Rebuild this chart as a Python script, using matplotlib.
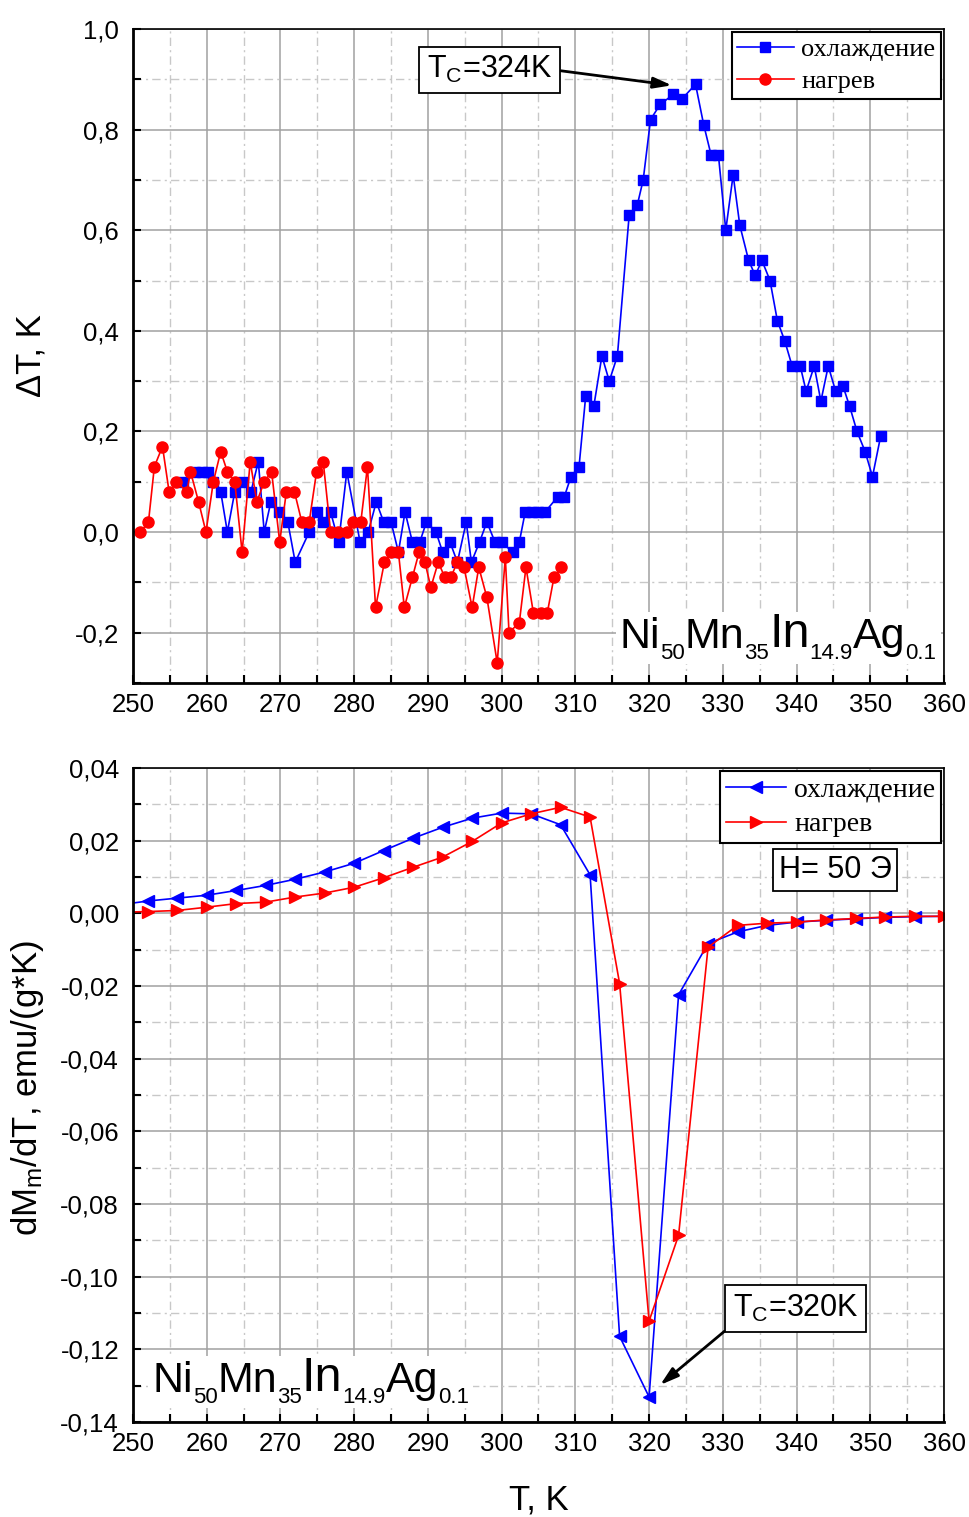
import matplotlib
matplotlib.use('Agg')
import matplotlib.pyplot as plt
from matplotlib.ticker import MultipleLocator, FuncFormatter
from matplotlib.patches import Rectangle
from matplotlib.transforms import Bbox

plt.rcParams['font.family'] = ['Liberation Sans', 'DejaVu Sans']
plt.rcParams['mathtext.default'] = 'regular'

# top panel: delta T, cooling (blue squares)
dt_cool_t = [256.8, 258.4, 259.3, 260.2, 260.9, 261.9, 262.8, 263.8, 264.9, 266.0,
             267.0, 267.8, 268.7, 269.8, 271.0, 272.0, 273.9, 274.9, 275.8, 276.8,
             277.9, 279.0, 280.8, 281.9, 283.0, 284.0, 285.0, 286.0, 286.9, 287.9,
             288.9, 289.8, 291.1, 292.0, 293.0, 294.0, 295.2, 295.9, 297.0, 298.0,
             299.1, 300.0, 301.5, 302.4, 303.2, 304.1, 305.0, 305.9, 307.6, 308.5,
             309.4, 310.5, 311.4, 312.5, 313.6, 314.6, 315.7, 317.3, 318.4, 319.2,
             320.2, 321.5, 323.3, 324.4, 326.3, 327.4, 328.4, 329.4, 330.4, 331.4,
             332.3, 333.5, 334.4, 335.3, 336.4, 337.4, 338.4, 339.4, 340.5, 341.3,
             342.4, 343.3, 344.3, 345.3, 346.3, 347.2, 348.2, 349.3, 350.3, 351.4]
dt_cool_v = [0.10, 0.12, 0.12, 0.12, 0.10, 0.08, 0.00, 0.08, 0.10, 0.08,
             0.14, 0.00, 0.06, 0.04, 0.02, -0.06, 0.00, 0.04, 0.02, 0.04,
             -0.02, 0.12, -0.02, 0.00, 0.06, 0.02, 0.02, -0.04, 0.04, -0.02,
             -0.02, 0.02, 0.00, -0.04, -0.02, -0.06, 0.02, -0.06, -0.02, 0.02,
             -0.02, -0.02, -0.04, -0.02, 0.04, 0.04, 0.04, 0.04, 0.07, 0.07,
             0.11, 0.13, 0.27, 0.25, 0.35, 0.30, 0.35, 0.63, 0.65, 0.70,
             0.82, 0.85, 0.87, 0.86, 0.89, 0.81, 0.75, 0.75, 0.60, 0.71,
             0.61, 0.54, 0.51, 0.54, 0.50, 0.42, 0.38, 0.33, 0.33, 0.28,
             0.33, 0.26, 0.33, 0.28, 0.29, 0.25, 0.20, 0.16, 0.11, 0.19]

# top panel: delta T, heating (red circles)
dt_heat_t = [251.0, 252.1, 252.9, 254.0, 254.9, 255.9, 257.3, 257.8, 258.9, 259.9,
             260.9, 261.9, 262.8, 263.8, 264.8, 265.9, 266.8, 267.8, 268.8, 269.9,
             270.8, 271.9, 272.9, 273.9, 274.9, 275.8, 276.8, 277.8, 279.0, 279.9,
             280.9, 281.8, 282.9, 284.1, 285.0, 286.0, 286.8, 287.9, 288.8, 289.6,
             290.4, 291.4, 292.3, 293.1, 294.0, 294.9, 296.0, 296.9, 298.0, 299.4,
             300.5, 301.0, 302.4, 303.3, 304.3, 305.3, 306.2, 307.1, 308.1]
dt_heat_v = [0.00, 0.02, 0.13, 0.17, 0.08, 0.10, 0.08, 0.12, 0.06, 0.00,
             0.10, 0.16, 0.12, 0.10, -0.04, 0.14, 0.06, 0.10, 0.12, -0.02,
             0.08, 0.08, 0.02, 0.02, 0.12, 0.14, 0.00, 0.00, 0.00, 0.02,
             0.02, 0.13, -0.15, -0.06, -0.04, -0.04, -0.15, -0.09, -0.04, -0.06,
             -0.11, -0.06, -0.09, -0.09, -0.06, -0.07, -0.15, -0.07, -0.13, -0.26,
             -0.05, -0.20, -0.18, -0.07, -0.16, -0.16, -0.16, -0.09, -0.07]

# bottom panel: dM/dT
dm_t = [248, 252, 256, 260, 264, 268, 272, 276, 280, 284, 288, 292, 296, 300, 304,
        308, 312, 316, 320, 324, 328, 332, 336, 340, 344, 348, 352, 356, 360]
dm_cool = [0.0023, 0.0034, 0.0042, 0.0050, 0.0063, 0.0077, 0.0094, 0.0114, 0.0138,
           0.0173, 0.0207, 0.0237, 0.0262, 0.0276, 0.0274, 0.0244, 0.0106, -0.1164,
           -0.1331, -0.0224, -0.0083, -0.0051, -0.0033, -0.0024, -0.0019, -0.0015,
           -0.0011, -0.0009, -0.0008]
dm_heat = [0.0003, 0.0005, 0.0008, 0.0017, 0.0027, 0.0031, 0.0045, 0.0056, 0.0072,
           0.0098, 0.0127, 0.0155, 0.0198, 0.0249, 0.0274, 0.0292, 0.0265, -0.0193,
           -0.1122, -0.0886, -0.0093, -0.0033, -0.0027, -0.0024, -0.0018, -0.0014,
           -0.0010, -0.0008, -0.0008]

labels = ['охлаждение', 'нагрев']
formula_parts = [('Ni', 'main'), ('50', 'sub'), ('Mn', 'main'), ('35', 'sub'),
                 ('In', 'big'), ('14.9', 'sub'), ('Ag', 'main'), ('0.1', 'sub')]


def comma(v, digits):
    if abs(v) < 1e-9:
        v = 0.0
    return f'{v:.{digits}f}'.replace('.', ',')


def style_axes(ax, y_min, y_max, y_major, y_minor, digits):
    ax.set_xlim(250, 360)
    ax.set_ylim(y_min, y_max)
    ax.xaxis.set_major_locator(MultipleLocator(10))
    ax.xaxis.set_minor_locator(MultipleLocator(5))
    ax.yaxis.set_major_locator(MultipleLocator(y_major))
    ax.yaxis.set_minor_locator(MultipleLocator(y_minor))
    ax.yaxis.set_major_formatter(FuncFormatter(lambda v, p: comma(v, digits)))
    ax.xaxis.set_major_formatter(FuncFormatter(lambda v, p: f'{v:.0f}'))
    ax.grid(which='major', color='#a0a0a0', lw=1.1, ls='-')
    ax.grid(which='minor', color='#c8c8c8', lw=1.0, ls=(0, (6, 3, 1.5, 3)))
    ax.set_axisbelow(True)
    ax.tick_params(which='both', direction='in', length=6, width=1.5,
                   labelsize=18.5, top=False, right=False)
    ax.tick_params(axis='x', pad=7)
    ax.tick_params(axis='y', pad=10)
    for side in ['left', 'bottom']:
        ax.spines[side].set_linewidth(2.0)
    for side in ['top', 'right']:
        ax.spines[side].set_linewidth(1.2)


def make_legend(ax, fontsize):
    leg = ax.legend(loc='upper right', prop={'family': 'Liberation Serif', 'size': fontsize},
                    frameon=True, fancybox=False, framealpha=1, edgecolor='black',
                    handlelength=2.15, handletextpad=0.3, borderpad=0.2,
                    labelspacing=0.34, borderaxespad=0.12, numpoints=1)
    leg.get_frame().set_linewidth(1.5)
    leg.set_zorder(7)


def formula(fig, ax, x, y):
    # chained pieces so subscripts sit lower and smaller than in mathtext
    sizes = {'main': 31, 'big': 35, 'sub': 16}
    text, kind = formula_parts[0]
    t = ax.text(x, y, text, fontsize=sizes[kind], va='baseline', zorder=6)
    texts = [t]
    for text, kind in formula_parts[1:]:
        dy = -5 if kind == 'sub' else 5
        t = ax.annotate(text, xy=(1, 0), xycoords=t, xytext=(0, dy),
                        textcoords='offset points', fontsize=sizes[kind],
                        ha='left', va='bottom', zorder=6)
        texts.append(t)

    # white patch behind the whole formula
    fig.canvas.draw()
    r = fig.canvas.get_renderer()
    box = Bbox.union([t.get_window_extent(r) for t in texts])
    box = box.transformed(ax.transAxes.inverted())
    ax.add_patch(Rectangle((box.x0 - 0.005, box.y0), box.width + 0.01, box.height,
                           transform=ax.transAxes, fc='white', ec='none', zorder=5))


fig = plt.figure(figsize=(9.7, 15.17), dpi=100)
ax1 = fig.add_axes([0.1371, 0.5498, 0.8361, 0.4311])
ax2 = fig.add_axes([0.1371, 0.0626, 0.8361, 0.4311])

# top panel
ax1.plot(dt_cool_t, dt_cool_v, color='#0000ff', lw=1.2, marker='s', ms=7.2, label=labels[0])
ax1.plot(dt_heat_t, dt_heat_v, color='#ff0000', lw=1.2, marker='o', ms=8, label=labels[1])
style_axes(ax1, -0.3, 1.0, 0.2, 0.1, 1)
ax1.set_ylabel('ΔT, K', fontsize=25)
ax1.yaxis.set_label_coords(-0.105, 0.5)
make_legend(ax1, 19)
ax1.annotate('T$_C$=324K', xy=(323.1, 0.888), xytext=(298.4, 0.919), fontsize=22,
             ha='center', va='center', zorder=8,
             bbox=dict(boxstyle='square,pad=0.25', fc='white', ec='black', lw=1.3),
             arrowprops=dict(arrowstyle='-|>,head_length=0.5,head_width=0.15',
                             color='black', lw=2, relpos=(1, 0.5), shrinkA=0, shrinkB=0))

# bottom panel
ax2.plot(dm_t, dm_cool, color='#0000ff', lw=1.2, marker='<', ms=9, label=labels[0])
ax2.plot(dm_t, dm_heat, color='#ff0000', lw=1.2, marker='>', ms=9, label=labels[1])
style_axes(ax2, -0.14, 0.04, 0.02, 0.01, 2)
ax2.set_ylabel('dM$_m$/dT, emu/(g*K)', fontsize=25)
ax2.yaxis.set_label_coords(-0.107, 0.51)
ax2.set_xlabel('T, K', fontsize=25)
ax2.xaxis.set_label_coords(0.5, -0.094)
make_legend(ax2, 20)
ax2.text(0.8656, 0.844, 'H= 50 Э', transform=ax2.transAxes, fontsize=22,
         ha='center', va='center', zorder=8,
         bbox=dict(boxstyle='square,pad=0.2', fc='white', ec='black', lw=1.3))
ax2.annotate('T$_C$=320K', xy=(321.5, -0.1298), xytext=(339.9, -0.1088), fontsize=22,
             ha='center', va='center', zorder=8,
             bbox=dict(boxstyle='square,pad=0.25', fc='white', ec='black', lw=1.3),
             arrowprops=dict(arrowstyle='-|>,head_length=0.5,head_width=0.15',
                             color='black', lw=2, relpos=(0, 0), shrinkA=0, shrinkB=0))

formula(fig, ax1, 316.0, -0.231)
formula(fig, ax2, 252.6, -0.1318)

fig.savefig('out.png', dpi=100)
